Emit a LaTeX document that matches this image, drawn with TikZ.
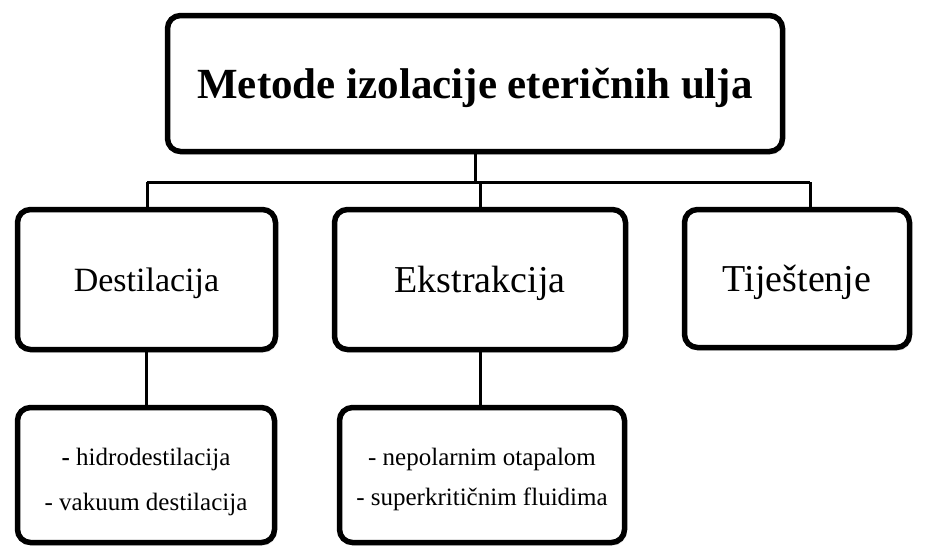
\documentclass[tikz,border=0pt]{standalone}
\usepackage{fontspec}
\setmainfont{Liberation Serif}
\usetikzlibrary{shadows}
\begin{document}
\begin{tikzpicture}[x=1pt,y=-1pt,
  box/.style={draw=black, line width=5.5pt, rounded corners=13pt, fill=white,
    inner sep=0pt, align=center,
    drop shadow={shadow xshift=2pt, shadow yshift=-3pt, opacity=0.18, fill=gray}},
  conn/.style={draw=black, line width=3pt}
]
\useasboundingbox (0,0) rectangle (925,547);
\node[box, text height=30pt, text depth=0pt, minimum width=615pt, minimum height=136pt,
  font=\fontsize{43}{50}\selectfont\bfseries] (top) at (475,83.5) {Metode izolacije eteričnih ulja};
\node[box, text height=23pt, text depth=0pt, minimum width=258pt, minimum height=140pt,
  font=\fontsize{34}{40}\selectfont] (dest) at (146.5,279.5) {Destilacija};
\node[box, text height=25pt, text depth=0pt, minimum width=291pt, minimum height=140pt,
  font=\fontsize{38}{44}\selectfont] (ekst) at (480,279.5) {Ekstrakcija};
\node[box, text height=25pt, text depth=0pt, minimum width=225pt, minimum height=138pt,
  font=\fontsize{38}{44}\selectfont] (tije) at (797,278.5) {Tiještenje};
\node[box, text height=70pt, text depth=0pt, minimum width=257pt, minimum height=135pt,
  font=\fontsize{25}{45}\selectfont] (sub1) at (146,475) {\textbf{-} hidrodestilacija\\- vakuum destilacija};
\node[box, text height=60pt, text depth=0pt, minimum width=285pt, minimum height=135pt,
  font=\fontsize{25}{40}\selectfont] (sub2) at (482,475) {- nepolarnim otapalom\\- superkritičnim fluidima};
\coordinate (jl) at (147,182);
\coordinate (jr) at (810,182);
\draw[conn] (jl) -- (jr);
\draw[conn] (top.south) -- (top.south |- jl);
\draw[conn] (jl) -- (jl |- dest.north);
\draw[conn] (jr) -- (jr |- tije.north);
\draw[conn] (ekst.north) -- (ekst.north |- jl);
\draw[conn] (dest.south) -- (dest.south |- sub1.north);
\draw[conn] (ekst.south) -- (ekst.south |- sub2.north);
\end{tikzpicture}
\end{document}
